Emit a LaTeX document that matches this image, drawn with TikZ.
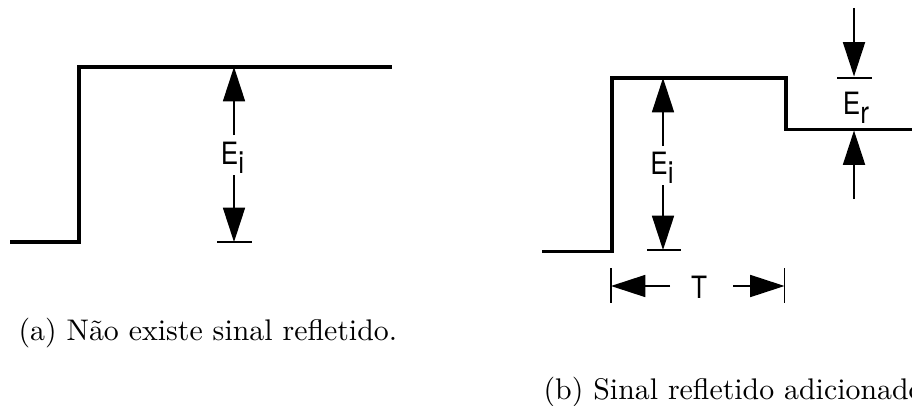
\documentclass[tikz,border=0pt]{standalone}
\usepackage{fontspec}
\newfontfamily\labelfont[FakeStretch=0.85]{TeX Gyre Heros}
\usetikzlibrary{arrows.meta, math}
\newcommand{\lowsub}[1]{\raisebox{-3pt}{#1}}
\tikzset{
  wave/.style={line width=1.1pt, line join=miter},
  dimarr/.style={line width=0.45pt, -{Triangle[width=7.4pt,length=11.5pt]}},
  tickline/.style={line width=0.45pt},
  lbl/.style={font=\labelfont\fontsize{10.3}{12}\selectfont, inner sep=0pt},
  capt/.style={anchor=base west, inner sep=0pt},
}

\begin{document}
\begin{tikzpicture}[x=0.335pt, y=-0.335pt]
\tikzmath{
\xa=79;
\ya=67;
\yb=242;
\xea=234;
\xb=612;
\xc=786;
\yc=78;
\yd=129.5;
\yf=251.5;
\xeb=663;
\xr=854;
\yt=286;
}
\useasboundingbox (0,0) rectangle (912,405);

% (a) degrau sem reflexao
\draw[wave] (10,\yb) -- (\xa,\yb) -- (\xa,\ya) -- (392,\ya);

\node[lbl] (Ea) at (232.5,157.5) {E\lowsub{i}};
\coordinate (EaUp) at (\xea,135);
\coordinate (EaDn) at (\xea,175);
\coordinate (EaTop) at (\xea,\ya);
\coordinate (EaBot) at (\xea,\yb);
\draw[dimarr] (EaUp) -- (EaTop);
\draw[dimarr] (EaDn) -- (EaBot);
\draw[tickline] (217,\yb) -- (252,\yb);

\node[capt] (capa) at (18,340) {(a) Não existe sinal refletido.};

% (b) degrau com reflexao
\draw[wave] (542,\yf) -- (\xb,\yf) -- (\xb,\yc) -- (\xc,\yc) -- (\xc,\yd) -- (912,\yd);

\node[lbl] (Eb) at (662,167.5) {E\lowsub{i}};
\coordinate (EbUp) at (\xeb,146);
\coordinate (EbDn) at (\xeb,185);
\coordinate (EbTop) at (\xeb,\yc);
\coordinate (EbBot) at (\xeb,250);
\draw[dimarr] (EbUp) -- (EbTop);
\draw[dimarr] (EbDn) -- (EbBot);
\draw[tickline] (647,250) -- (681,250);

\node[lbl] (Er) at (856,107.5) {E\lowsub{r}};
\coordinate (ErA) at (\xr,8);
\coordinate (ErB) at (\xr,76.5);
\coordinate (ErC) at (\xr,199);
\coordinate (ErD) at (\xr,130.5);
\draw[dimarr] (ErA) -- (ErB);
\draw[dimarr] (ErC) -- (ErD);
\draw[tickline] (837,\yc) -- (872,\yc);

\node[lbl] (T) at (699,287.5) {T};
\coordinate (TL) at (611,\yt);
\coordinate (TR) at (784.5,\yt);
\coordinate (TLs) at (670,\yt);
\coordinate (TRs) at (733,\yt);
\draw[dimarr] (TLs) -- (TL);
\draw[dimarr] (TRs) -- (TR);
\draw[tickline] (611,268) -- (611,303);
\draw[tickline] (784.5,268) -- (784.5,303);

\node[capt] (capb) at (543,399) {(b) Sinal refletido adicionado};
\end{tikzpicture}
\end{document}
